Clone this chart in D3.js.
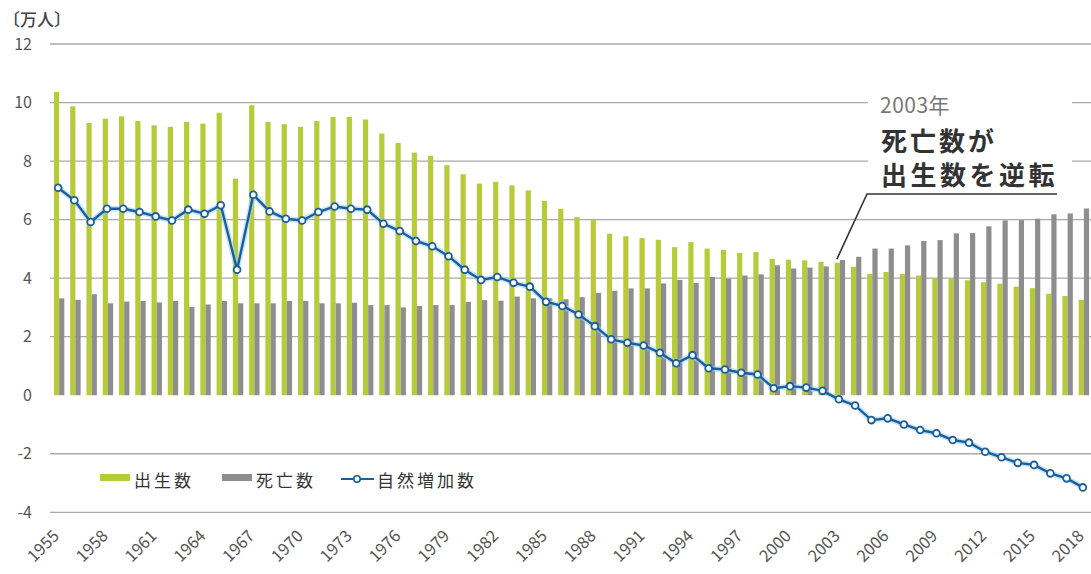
<!DOCTYPE html>
<html><head><meta charset="utf-8">
<script src="https://cdn.jsdelivr.net/npm/d3@7"></script>
<style>
html,body{margin:0;padding:0;background:#fff;}
svg{display:block;font-family:"Noto Sans CJK JP","Noto Sans",sans-serif;}
</style></head>
<body>
<svg id="chart" width="1091" height="574"></svg>
<script>
const years = d3.range(1955, 2019);
const births = [10.36,9.87,9.30,9.45,9.53,9.37,9.22,9.17,9.34,9.28,9.65,7.40,9.91,9.34,9.26,9.17,9.37,9.51,9.51,9.42,
8.94,8.62,8.29,8.18,7.86,7.55,7.23,7.29,7.17,7.00,6.64,6.37,6.09,5.98,5.52,5.43,5.37,5.31,5.06,5.23,
5.01,4.97,4.86,4.89,4.66,4.63,4.61,4.56,4.53,4.39,4.14,4.21,4.14,4.09,4.00,3.99,3.93,3.86,3.81,3.71,3.66,3.47,3.39,3.26];
const deaths = [3.31,3.26,3.45,3.14,3.20,3.22,3.17,3.22,3.02,3.10,3.22,3.14,3.14,3.14,3.22,3.22,3.14,3.14,3.16,3.08,
3.08,3.00,3.05,3.08,3.08,3.19,3.25,3.23,3.37,3.31,3.31,3.28,3.35,3.50,3.57,3.65,3.65,3.82,3.94,3.84,
4.04,3.98,4.09,4.13,4.44,4.33,4.36,4.40,4.62,4.73,5.01,5.01,5.12,5.27,5.30,5.53,5.54,5.77,5.97,5.98,6.03,6.18,6.21,6.38];
const natural = [7.09,6.66,5.92,6.37,6.37,6.26,6.11,5.97,6.34,6.20,6.49,4.29,6.85,6.28,6.03,5.97,6.26,6.45,6.37,6.34,
5.86,5.61,5.27,5.09,4.75,4.29,3.94,4.04,3.84,3.71,3.19,3.05,2.76,2.36,1.91,1.79,1.70,1.45,1.09,1.37,
0.92,0.88,0.77,0.71,0.24,0.31,0.26,0.15,-0.14,-0.35,-0.85,-0.79,-1.00,-1.19,-1.30,-1.53,-1.62,-1.93,-2.12,-2.31,-2.38,-2.67,-2.84,-3.15];
const yTicks = [12,10,8,6,4,2,0,-2,-4];
const gridValues = [12,10,8,6,4,2,-2,-4];
const xLabelYears = d3.range(1955, 2019, 3);
const seriesNames = ["出生数","死亡数","自然増加数"];
const unitLabel = "〔万人〕";
const noteLines = ["2003年","死亡数が","出生数を逆転"];
const noteYear = 2003;

const colBirth = "#b7cb3a", colDeath = "#8e8e8e", colLine = "#1b5e9b";

const svg = d3.select("#chart");
const x = d3.scaleBand().domain(years).range([51, 1092]).paddingInner(0.36).paddingOuter(0.18);
const xs = d3.scaleBand().domain(["b","d"]).range([0, x.bandwidth()]).padding(0);
const y = d3.scaleLinear().domain([-4, 12]).range([512.3, 44]);

// grid
svg.append("g").selectAll("line").data(gridValues).join("line")
  .attr("x1", 50).attr("x2", 1091)
  .attr("y1", d => y(d)).attr("y2", d => y(d))
  .attr("stroke", "#a9a9a9").attr("stroke-width", 1.3);

// y tick labels
svg.append("g").selectAll("text").data(yTicks).join("text")
  .attr("x", 32).attr("y", d => y(d)).attr("dy", "0.35em")
  .attr("text-anchor", "end").attr("font-size", 16).attr("fill", "#555")
  .text(d => d);

svg.append("text").attr("x", 3).attr("y", 26).attr("font-size", 17).attr("font-weight", 500).attr("fill", "#444")
  .text(unitLabel);

// bars
const gb = svg.append("g");
gb.selectAll("rect.b").data(years).join("rect").attr("class","b")
  .attr("x", (d) => x(d) + xs("b")).attr("width", xs.bandwidth())
  .attr("y", (d,i) => y(births[i])).attr("height", (d,i) => y(0) - y(births[i]))
  .attr("fill", colBirth);
gb.selectAll("rect.d").data(years).join("rect").attr("class","d")
  .attr("x", (d) => x(d) + xs("d")).attr("width", xs.bandwidth())
  .attr("y", (d,i) => y(deaths[i])).attr("height", (d,i) => y(0) - y(deaths[i]))
  .attr("fill", colDeath);

// line
const cx = d => x(d) + x.bandwidth()/2 - 1;
const line = d3.line().x((d,i) => cx(years[i])).y(d => y(d));
svg.append("path").datum(natural).attr("d", line).attr("fill","none")
  .attr("stroke", "#9fd3ee").attr("stroke-width", 5.5).attr("stroke-opacity", 0.6);
svg.append("path").datum(natural).attr("d", line).attr("fill","none")
  .attr("stroke", colLine).attr("stroke-width", 2.4);
svg.append("g").selectAll("circle").data(natural).join("circle")
  .attr("cx", (d,i) => cx(years[i])).attr("cy", d => y(d)).attr("r", 3.4)
  .attr("fill", "#fff").attr("stroke", colLine).attr("stroke-width", 1.8);

// x labels
svg.append("g").selectAll("text").data(xLabelYears).join("text")
  .attr("transform", d => `translate(${x(d) + x.bandwidth()/2 - 3},${533}) rotate(-45)`)
  .attr("text-anchor", "end").attr("dy", "0.35em")
  .attr("font-size", 16.5).attr("fill", "#555")
  .text(d => d);

// legend
const lg = svg.append("g");
const legText = (xx, t) => lg.append("text").attr("x", xx).attr("y", 481).attr("dy","0.35em")
  .attr("font-size", 17).attr("letter-spacing", 3).attr("fill","#333").text(t);
lg.append("rect").attr("x", 100).attr("y", 474).attr("width", 30).attr("height", 7).attr("fill", colBirth);
legText(134, seriesNames[0]);
lg.append("rect").attr("x", 222).attr("y", 474).attr("width", 30).attr("height", 7).attr("fill", colDeath);
legText(256, seriesNames[1]);
lg.append("line").attr("x1", 341).attr("x2", 374).attr("y1", 479).attr("y2", 479).attr("stroke", colLine).attr("stroke-width", 2.2);
lg.append("circle").attr("cx", 357).attr("cy", 479).attr("r", 3.2).attr("fill","#fff").attr("stroke", colLine).attr("stroke-width", 1.6);
legText(377, seriesNames[2]);

// annotation
const ann = svg.append("g");
ann.append("rect").attr("x", 868).attr("y", 90).attr("width", 204).attr("height", 100).attr("fill", "#fff");
ann.append("text").attr("x", 880).attr("y", 113).attr("font-size", 21).attr("letter-spacing", 0.5).attr("fill", "#777").text(noteLines[0]);
ann.append("text").attr("x", 881).attr("y", 151).attr("font-size", 26).attr("letter-spacing", 3).attr("font-weight", "bold").attr("fill", "#333").text(noteLines[1]);
ann.append("text").attr("x", 881).attr("y", 185).attr("font-size", 26).attr("letter-spacing", 3.5).attr("font-weight", "bold").attr("fill", "#333").text(noteLines[2]);
const ax = x(noteYear) + x.bandwidth()/2 - 3;
ann.append("polyline")
  .attr("points", `${ax},${y(4.65)} 867,194 1057,194`)
  .attr("fill","none").attr("stroke","#333").attr("stroke-width", 1.6);
</script>
</body></html>
